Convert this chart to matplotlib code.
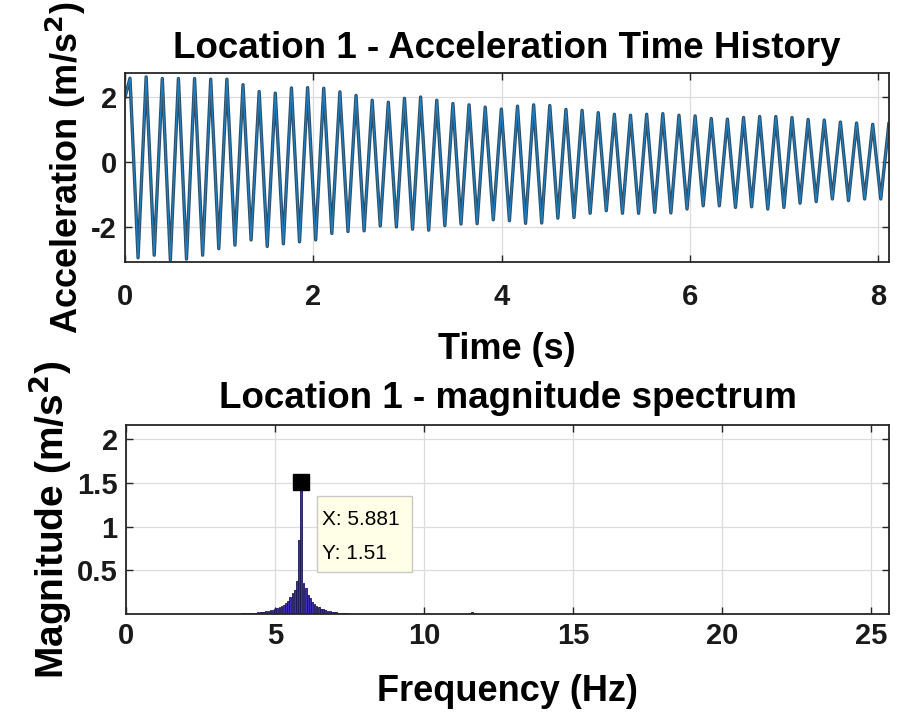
import numpy as np
import matplotlib
matplotlib.use("Agg")
import matplotlib.pyplot as plt
from matplotlib.patches import Rectangle

# ---------------- data ----------------
# time history: extrema (alternating peak / trough) of the oscillation
t_start_value = 2.0          # value at t = 0
first_peak_time = 0.053      # s
half_period = 0.08575        # s  (period ~0.1715 s)
peak_values = [2.58, 2.62, 2.57, 2.57, 2.57, 2.55, 2.55, 2.38, 2.17, 2.12,
               2.28, 2.29, 2.27, 2.16, 2.05, 1.90, 1.84, 1.96, 2.00, 1.90,
               1.80, 1.76, 1.69, 1.63, 1.72, 1.76, 1.74, 1.62, 1.59, 1.52,
               1.47, 1.44, 1.47, 1.49, 1.44, 1.42, 1.34, 1.32, 1.37, 1.40,
               1.40, 1.37, 1.31, 1.29, 1.23, 1.20, 1.16, 1.18]
trough_values = [-2.95, -2.87, -3.02, -2.99, -2.87, -2.67, -2.56, -2.40, -2.60, -2.52,
                 -2.46, -2.40, -2.20, -2.14, -2.12, -1.97, -2.00, -2.07, -2.10, -1.96,
                 -1.91, -1.90, -1.78, -1.81, -1.89, -1.88, -1.73, -1.71, -1.58, -1.50,
                 -1.58, -1.58, -1.55, -1.57, -1.45, -1.35, -1.35, -1.40, -1.38, -1.45,
                 -1.40, -1.27, -1.22, -1.14, -1.19, -1.14, -1.14]

# magnitude spectrum (bin frequencies in Hz, magnitudes in m/s^2)
spec_freq = [3.749, 3.822, 3.896, 3.970, 4.043, 4.117, 4.190, 4.264, 4.337, 4.411,
             4.484, 4.558, 4.631, 4.705, 4.778, 4.852, 4.925, 4.999, 5.072, 5.146,
             5.219, 5.293, 5.366, 5.440, 5.513, 5.587, 5.660, 5.734, 5.807, 5.881,
             5.954, 6.028, 6.101, 6.175, 6.248, 6.322, 6.395, 6.469, 6.542, 6.616,
             6.689, 6.763, 6.836, 6.910, 6.983, 7.057, 7.130, 7.204, 7.277, 7.351,
             7.424, 7.498, 7.571, 11.542, 11.615, 11.689]
spec_mag = [0.004, 0.005, 0.006, 0.007, 0.008, 0.010, 0.012, 0.014, 0.016, 0.019,
            0.022, 0.025, 0.028, 0.032, 0.037, 0.042, 0.048, 0.055, 0.065, 0.075,
            0.090, 0.100, 0.130, 0.150, 0.190, 0.240, 0.280, 0.380, 0.850, 1.510,
            0.360, 0.300, 0.220, 0.180, 0.140, 0.110, 0.090, 0.075, 0.062, 0.052,
            0.045, 0.038, 0.032, 0.027, 0.023, 0.019, 0.016, 0.013, 0.011, 0.009,
            0.007, 0.005, 0.004, 0.010, 0.020, 0.010]
tip_x = 5.881
tip_y = 1.51

time_ticks = [0, 2, 4, 6, 8]
acc_ticks = [-2, 0, 2]
freq_ticks = [0, 5, 10, 15, 20, 25]
mag_ticks = [0.5, 1, 1.5, 2]

# ---------------- styling ----------------
plt.rcParams['font.family'] = ['Liberation Sans', 'DejaVu Sans']
plt.rcParams['font.weight'] = 'bold'
plt.rcParams['axes.unicode_minus'] = False

line_dark = '#2c4d66'
line_col = '#1f7fc0'
frame_col = '#262626'
grid_col = '#dcdcdc'
TICK_FS = 21
LABEL_FS = 26
TITLE_FS = 26.5

fig = plt.figure(figsize=(8.97, 7.25), dpi=100)
ax1 = fig.add_axes([125/897, 1-262/725, 764/897, 189/725])
ax2 = fig.add_axes([126/897, 1-614/725, 763/897, 189/725])

# polyline through the extrema
times = [0.0]
vals = [t_start_value]
for k in range(len(peak_values)):
    times.append(first_peak_time + 2*k*half_period)
    vals.append(peak_values[k])
    if k < len(trough_values):
        times.append(first_peak_time + (2*k+1)*half_period)
        vals.append(trough_values[k])

ax1.plot(times, vals, color=line_dark, lw=2.4, solid_joinstyle='round')
ax1.plot(times, vals, color=line_col, lw=0.9, solid_joinstyle='round')
ax1.set_xlim(0, 8.115)
ax1.set_ylim(-3.08, 2.74)
ax1.set_xticks(time_ticks)
ax1.set_yticks(acc_ticks)
ax1.set_title('Location 1 - Acceleration Time History', fontsize=TITLE_FS,
              fontweight='bold', pad=11)
ax1.set_xlabel('Time (s)', fontsize=LABEL_FS, fontweight='bold', labelpad=15)
ax1.set_ylabel('Acceleration (m/s$^2$)', fontsize=LABEL_FS, fontweight='bold', labelpad=2)

bw = (spec_freq[1] - spec_freq[0]) * 0.8
ax2.bar(spec_freq, spec_mag, width=bw, color='#3a2fb5', edgecolor='#1c1650', linewidth=0.6)
ax2.set_xlim(0, 25.6)
ax2.set_ylim(0, 2.16)
ax2.set_xticks(freq_ticks)
ax2.set_yticks(mag_ticks)
ax2.set_yticklabels(['0.5', '1', '1.5', '2'])
ax2.set_title('Location 1 - magnitude spectrum', fontsize=TITLE_FS,
              fontweight='bold', pad=12)
ax2.set_xlabel('Frequency (Hz)', fontsize=LABEL_FS, fontweight='bold', labelpad=17)
ax2.set_ylabel('Magnitude (m/s$^2$)', fontsize=28, fontweight='bold', labelpad=2)

# data tip
ax2.plot([tip_x], [tip_y], marker='s', color='black', markersize=11, zorder=6)
ax2.add_patch(Rectangle((6.4, 0.48), 3.2, 0.87, facecolor='#ffffe8',
                        edgecolor='#c8c8c8', lw=1.0, zorder=5))
ax2.text(6.57, 1.08, 'X: %.3f' % tip_x, fontsize=15, fontweight='normal',
         va='center', ha='left', zorder=7)
ax2.text(6.57, 0.69, 'Y: %.2f' % tip_y, fontsize=15, fontweight='normal',
         va='center', ha='left', zorder=7)

for ax in (ax1, ax2):
    ax.grid(True, color=grid_col, lw=0.9)
    ax.set_axisbelow(True)
    for s in ax.spines.values():
        s.set_color(frame_col)
        s.set_linewidth(1.3)
    ax.tick_params(direction='in', length=5, width=1.0, colors=frame_col,
                   labelcolor='#1a1a1a', labelsize=TICK_FS, top=True, right=True)
    ax.tick_params(axis='y', pad=6)
    for lab in ax.get_xticklabels() + ax.get_yticklabels():
        lab.set_fontweight('bold')
ax1.tick_params(axis='x', pad=15)
ax2.tick_params(axis='x', pad=6)

fig.savefig('out.png', dpi=100, facecolor='white')
